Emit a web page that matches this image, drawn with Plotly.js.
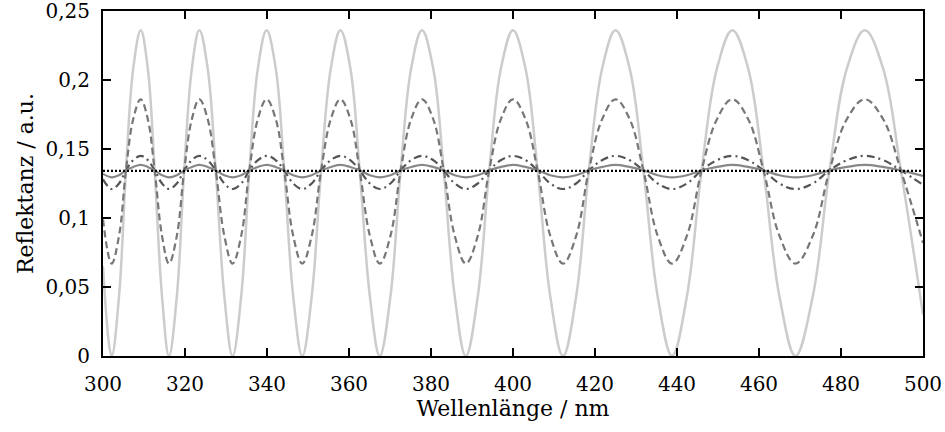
<!DOCTYPE html>
<html>
<head>
<meta charset="utf-8">
<script src="https://cdn.plot.ly/plotly-3.0.1.min.js"></script>
<style>html,body{margin:0;padding:0;background:#fff;}#chart{width:945px;height:432px;}</style>
</head>
<body>
<div id="chart"></div>
<script>
// Wavelength samples (nm): extrema, crossings and in-between points
var wavelength = [300,
  302.1, 303.9, 305.6, 307.4, 309.2, 310.9, 312.6, 314.4,
  316.1, 318.0, 319.8, 321.7, 323.5, 325.5, 327.5, 329.6,
  331.6, 333.7, 335.7, 337.8, 339.9, 342.1, 344.2, 346.4,
  348.6, 350.9, 353.2, 355.6, 357.9, 360.3, 362.6, 365.1,
  367.5, 370.1, 372.6, 375.2, 377.8, 380.5, 383.1, 385.8,
  388.5, 391.4, 394.2, 397.1, 400.0, 403.0, 406.0, 409.1,
  412.2, 415.4, 418.5, 421.8, 425.0, 428.4, 431.8, 435.3,
  438.8, 442.4, 446.0, 449.8, 453.5, 457.3, 461.1, 465.0,
  468.9, 473.1, 477.2, 481.5, 485.8, 490.2, 494.6,
  500];

var lightSolid = [0.065,
  0, 0.043, 0.1345, 0.209, 0.236, 0.209, 0.1345, 0.043,
  0, 0.043, 0.1345, 0.209, 0.236, 0.209, 0.1345, 0.043,
  0, 0.043, 0.1345, 0.209, 0.236, 0.209, 0.1345, 0.043,
  0, 0.043, 0.1345, 0.209, 0.236, 0.209, 0.1345, 0.043,
  0, 0.043, 0.1345, 0.209, 0.236, 0.209, 0.1345, 0.043,
  0, 0.043, 0.1345, 0.209, 0.236, 0.209, 0.1345, 0.043,
  0, 0.043, 0.1345, 0.209, 0.236, 0.209, 0.1345, 0.043,
  0, 0.043, 0.1345, 0.209, 0.236, 0.209, 0.1345, 0.043,
  0, 0.043, 0.1345, 0.209, 0.236, 0.209, 0.1345,
  0.030];

var dashed = [0.099,
  0.067, 0.087, 0.1345, 0.172, 0.186, 0.172, 0.1345, 0.087,
  0.067, 0.087, 0.1345, 0.172, 0.186, 0.172, 0.1345, 0.087,
  0.067, 0.087, 0.1345, 0.172, 0.186, 0.172, 0.1345, 0.087,
  0.067, 0.087, 0.1345, 0.172, 0.186, 0.172, 0.1345, 0.087,
  0.067, 0.087, 0.1345, 0.172, 0.186, 0.172, 0.1345, 0.087,
  0.067, 0.087, 0.1345, 0.172, 0.186, 0.172, 0.1345, 0.087,
  0.067, 0.087, 0.1345, 0.172, 0.186, 0.172, 0.1345, 0.087,
  0.067, 0.087, 0.1345, 0.172, 0.186, 0.172, 0.1345, 0.087,
  0.067, 0.087, 0.1345, 0.172, 0.186, 0.172, 0.1345,
  0.082];

var dashDot = [0.128,
  0.121, 0.125, 0.1345, 0.142, 0.145, 0.142, 0.1345, 0.125,
  0.121, 0.125, 0.1345, 0.142, 0.145, 0.142, 0.1345, 0.125,
  0.121, 0.125, 0.1345, 0.142, 0.145, 0.142, 0.1345, 0.125,
  0.121, 0.125, 0.1345, 0.142, 0.145, 0.142, 0.1345, 0.125,
  0.121, 0.125, 0.1345, 0.142, 0.145, 0.142, 0.1345, 0.125,
  0.121, 0.125, 0.1345, 0.142, 0.145, 0.142, 0.1345, 0.125,
  0.121, 0.125, 0.1345, 0.142, 0.145, 0.142, 0.1345, 0.125,
  0.121, 0.125, 0.1345, 0.142, 0.145, 0.142, 0.1345, 0.125,
  0.121, 0.125, 0.1345, 0.142, 0.145, 0.142, 0.1345,
  0.124];

var darkSolid = [0.132,
  0.1295, 0.131, 0.1345, 0.137, 0.1385, 0.137, 0.1345, 0.131,
  0.1295, 0.131, 0.1345, 0.137, 0.1385, 0.137, 0.1345, 0.131,
  0.1295, 0.131, 0.1345, 0.137, 0.1385, 0.137, 0.1345, 0.131,
  0.1295, 0.131, 0.1345, 0.137, 0.1385, 0.137, 0.1345, 0.131,
  0.1295, 0.131, 0.1345, 0.137, 0.1385, 0.137, 0.1345, 0.131,
  0.1295, 0.131, 0.1345, 0.137, 0.1385, 0.137, 0.1345, 0.131,
  0.1295, 0.131, 0.1345, 0.137, 0.1385, 0.137, 0.1345, 0.131,
  0.1295, 0.131, 0.1345, 0.137, 0.1385, 0.137, 0.1345, 0.131,
  0.1295, 0.131, 0.1345, 0.137, 0.1385, 0.137, 0.1345,
  0.1305];

var flatX = [300, 500];
var flatY = [0.1342, 0.1342];

var xTicks = [300, 320, 340, 360, 380, 400, 420, 440, 460, 480, 500];
var yTicks = [0, 0.05, 0.1, 0.15, 0.2, 0.25];
var yTickText = ['0', '0,05', '0,1', '0,15', '0,2', '0,25'];

function tr(x, y, color, width, dash) {
  return {x: x, y: y, type: 'scatter', mode: 'lines',
    line: {color: color, width: width, dash: dash, shape: 'spline', smoothing: 1.1},
    hoverinfo: 'skip', showlegend: false, cliponaxis: true};
}

var data = [
  tr(wavelength, lightSolid, '#cccccc', 2.5, 'solid'),
  tr(wavelength, dashed, '#777777', 2.2, '7px,4px'),
  tr(wavelength, dashDot, '#555555', 2.2, '8px,4px,2px,4px'),
  tr(wavelength, darkSolid, '#888888', 2.2, 'solid'),
  {x: flatX, y: flatY, type: 'scatter', mode: 'lines',
    line: {color: '#000000', width: 2.2, dash: '2px,2px'}, hoverinfo: 'skip', showlegend: false}
];

var font = {family: 'DejaVu Serif, serif', size: 20, color: '#000'};
var titleFont = {family: 'DejaVu Serif, serif', size: 22, color: '#000'};

var layout = {
  width: 945, height: 432,
  margin: {l: 103, r: 22, t: 11, b: 76},
  paper_bgcolor: '#fff', plot_bgcolor: '#fff',
  separators: ',.',
  font: font,
  xaxis: {
    range: [300, 500], tickmode: 'array', tickvals: xTicks,
    ticks: 'inside', ticklen: 8, tickwidth: 1.5, tickcolor: '#000',
    showline: true, linecolor: '#000', linewidth: 2, mirror: 'ticks',
    showgrid: false, zeroline: false, tickfont: font, ticklabelstandoff: 9,
    ticklabeloverflow: 'allow',
    title: {text: 'Wellenlänge / nm', font: titleFont, standoff: 4}
  },
  yaxis: {
    range: [0, 0.25], tickmode: 'array', tickvals: yTicks, ticktext: yTickText,
    ticks: 'inside', ticklen: 8, tickwidth: 1.5, tickcolor: '#000',
    showline: true, linecolor: '#000', linewidth: 2, mirror: 'ticks',
    showgrid: false, zeroline: false, tickfont: font, ticklabelstandoff: 7,
    ticklabeloverflow: 'allow',
    title: {text: 'Reflektanz / a.u.', font: titleFont, standoff: 6}
  }
};

Plotly.newPlot('chart', data, layout, {displayModeBar: false, staticPlot: true});
</script>
</body>
</html>
